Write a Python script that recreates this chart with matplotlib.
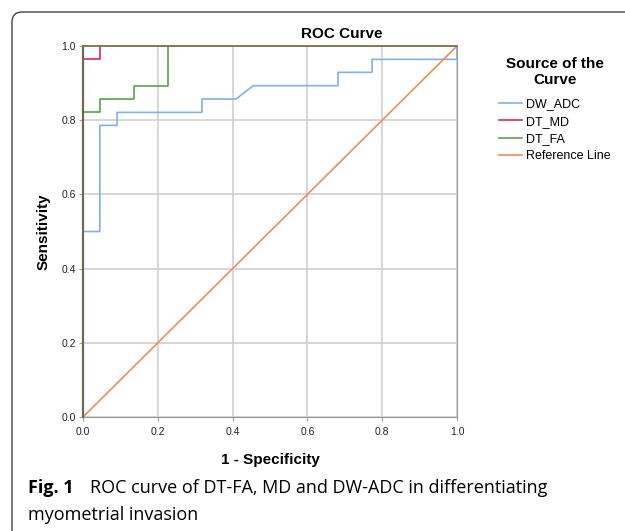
import numpy as np
import matplotlib.pyplot as plt
from matplotlib.patches import FancyBboxPatch

# ROC points (1 - specificity, sensitivity)
adc_x = [0.0, 0.0, 0.045, 0.045, 0.091, 0.091, 0.318, 0.318, 0.409, 0.455, 0.682, 0.682, 0.773, 0.773, 1.0, 1.0]
adc_y = [0.0, 0.5, 0.5, 0.786, 0.786, 0.821, 0.821, 0.857, 0.857, 0.893, 0.893, 0.929, 0.929, 0.964, 0.964, 1.0]

md_x = [0.0, 0.0, 0.045, 0.045, 1.0]
md_y = [0.0, 0.964, 0.964, 1.0, 1.0]

fa_x = [0.0, 0.0, 0.045, 0.045, 0.136, 0.136, 0.227, 0.227, 1.0]
fa_y = [0.0, 0.821, 0.821, 0.857, 0.857, 0.893, 0.893, 1.0, 1.0]

ref_x = [0.0, 1.0]
ref_y = [0.0, 1.0]

ticks = [0.0, 0.2, 0.4, 0.6, 0.8, 1.0]
tick_labels = ["0.0", "0.2", "0.4", "0.6", "0.8", "1.0"]

plt.rcParams['font.family'] = ['Liberation Sans', 'DejaVu Sans']

fig = plt.figure(figsize=(6.25, 5.31), dpi=100)
ax = fig.add_axes([83 / 625, 1 - 417 / 531, 374 / 625, 371 / 531])

ax.plot(adc_x, adc_y, color='#7fb2ea', lw=1.2, label='DW_ADC', zorder=3)
ax.plot(md_x, md_y, color='#e0245e', lw=1.2, label='DT_MD', zorder=3)
ax.plot(fa_x, fa_y, color='#56a648', lw=1.2, label='DT_FA', zorder=3)
ax.plot(ref_x, ref_y, color='#f28c55', lw=1.2, label='Reference Line', zorder=3)

ax.set_xlim(0, 1)
ax.set_ylim(0, 1)
ax.set_xticks(ticks)
ax.set_xticklabels(tick_labels)
ax.set_yticks(ticks)
ax.set_yticklabels(tick_labels)
ax.tick_params(labelsize=7.5, length=3, color='#a0a0a0', pad=2, labelcolor='#222222')
ax.tick_params(axis='x', pad=4)
ax.grid(True, color='#cfcfcf', lw=1.2)
ax.set_axisbelow(True)

for s in ['bottom', 'right']:
    ax.spines[s].set_color('#9a9a9a')
ax.spines['left'].set_color('#6b6a4a')
ax.spines['left'].set_linewidth(1.6)
ax.spines['left'].set_zorder(4)
ax.spines['top'].set_color('#857a50')
ax.spines['top'].set_linewidth(1.4)
ax.spines['top'].set_zorder(4)

ax.set_xlabel('1 - Specificity', fontsize=11, fontweight='bold', labelpad=12)
ax.set_ylabel('Sensitivity', fontsize=11, fontweight='bold', labelpad=8)
fig.text(342 / 625, 1 - 34 / 531, 'ROC Curve', ha='center', va='center', fontsize=11, fontweight='bold')

leg = ax.legend(loc='upper left', bbox_to_anchor=(1.1, 0.985), frameon=False,
                title='Source of the\nCurve', fontsize=9, handlelength=1.8,
                handletextpad=0.3, labelspacing=0.42, borderaxespad=0)
leg.get_title().set_fontweight('bold')
leg.get_title().set_fontsize(11)
leg.get_title().set_multialignment('center')
leg.get_title().set_linespacing(1.25)
leg._legend_box.sep = 8

# caption
cap_font = ['Open Sans', 'DejaVu Sans']
fig.text(28 / 625, 1 - 488 / 531, 'Fig. 1', fontsize=13, fontweight='bold',
         family=cap_font, va='center')
fig.text(90 / 625, 1 - 488 / 531, 'ROC curve of DT-FA, MD and DW-ADC in differentiating',
         fontsize=13, family=cap_font, va='center')
fig.text(28 / 625, 1 - 515 / 531, 'myometrial invasion', fontsize=13,
         family=cap_font, va='center')

# rounded frame around the figure
box = FancyBboxPatch((0.12, -0.5), 7.0, 5.69, boxstyle='round,pad=0,rounding_size=0.1',
                     transform=fig.dpi_scale_trans, fill=False, edgecolor='#444444', lw=1.0)
fig.patches.append(box)

fig.savefig('out.png', dpi=100)
